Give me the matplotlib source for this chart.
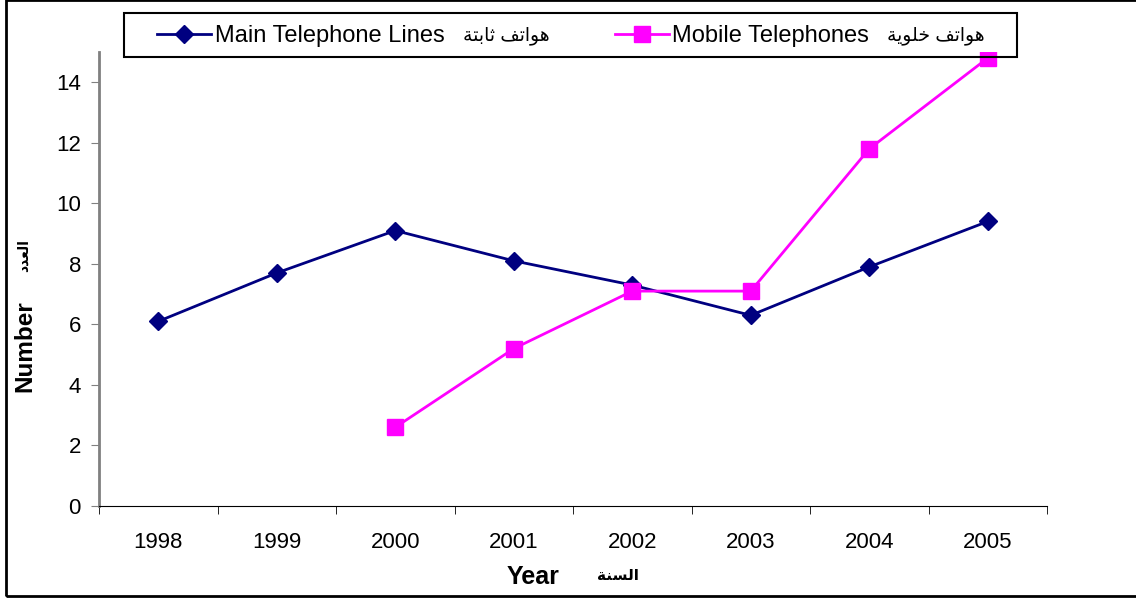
import numpy as np
import matplotlib.pyplot as plt
from matplotlib.patches import Rectangle

years = ['1998', '1999', '2000', '2001', '2002', '2003', '2004', '2005']
main_lines = [6.1, 7.7, 9.1, 8.1, 7.3, 6.3, 7.9, 9.4]
mobile = [np.nan, np.nan, 2.6, 5.2, 7.1, 7.1, 11.8, 14.8]

# arabic written in presentation forms, visual (left to right) order
ar_main = '\ufe94\ufe98\ufe91\ufe8e\ufe9b \ufed2\ufe97\ufe8d\ufeee\ufeeb'
ar_mobile = '\ufe94\ufef3\ufeee\ufee0\ufea7 \ufed2\ufe97\ufe8d\ufeee\ufeeb'
ar_number = '\ufea9\ufeaa\ufecc\ufedf\ufe8d'
ar_year = '\ufe94\ufee8\ufeb4\ufedf\ufe8d'

plt.rcParams['font.family'] = ['Liberation Sans', 'DejaVu Sans']

W, H = 1136, 598
fig = plt.figure(figsize=(W / 100, H / 100), dpi=100)
ax = fig.add_axes([99 / W, 1 - 506 / H, 948 / W, 454 / H])

x = np.arange(len(years))
ax.plot(x, main_lines, color='#000080', lw=2, marker='D', ms=9,
        label='Main Telephone Lines')
ax.plot(x, mobile, color='#FF00FF', lw=2, marker='s', ms=11,
        label='Mobile Telephones')

ax.set_xlim(-0.5, len(years) - 0.5)
ax.set_ylim(0, 15)
ax.set_yticks(np.arange(0, 15, 2))
ax.set_xticks(x)
ax.set_xticklabels(years)
ax.set_xticks(np.arange(-0.5, len(years), 1), minor=True)
ax.tick_params(axis='x', which='major', length=0, pad=19, labelsize=16)
ax.tick_params(axis='x', which='minor', length=6, color='black')
ax.tick_params(axis='y', length=6, color='#808080', labelsize=16, pad=7)

for s in ['top', 'right']:
    ax.spines[s].set_visible(False)
ax.spines['left'].set_color('#808080')
ax.spines['left'].set_linewidth(2)
ax.spines['bottom'].set_color('black')

# axis titles, english and arabic side by side
fig.text(533 / W, 1 - 577 / H, 'Year', fontsize=18, fontweight='bold',
         ha='center', va='center')
fig.text(618 / W, 1 - 576 / H, ar_year, fontsize=11, fontweight='bold',
         ha='center', va='center')
fig.text(25 / W, 1 - 346 / H, 'Number', fontsize=17.5, fontweight='bold',
         rotation=90, ha='center', va='center')
fig.text(24 / W, 1 - 255 / H, ar_number, fontsize=10, fontweight='bold',
         rotation=90, ha='center', va='center')

# legend
fig.patches.append(Rectangle((124 / W, 1 - 57 / H), 893 / W, 44 / H,
                             transform=fig.transFigure, fill=False,
                             edgecolor='black', lw=1.5))
leg = fig.legend(loc='center left', bbox_to_anchor=(157 / W, 1 - 36 / H), ncol=2,
                 frameon=False, fontsize=17, handlelength=2.3,
                 handletextpad=0.15, columnspacing=7.2, borderpad=0,
                 borderaxespad=0)
fig.text(550 / W, 1 - 36 / H, ar_main, fontsize=13.5, ha='right', va='center')
fig.text(985 / W, 1 - 36 / H, ar_mobile, fontsize=13.5, ha='right', va='center')

# outer chart border
fig.patches.append(Rectangle((6 / W, 2 / H), 1.1, 596 / H, transform=fig.transFigure,
                             fill=False, edgecolor='black', lw=2))

fig.savefig('out.png', dpi=100)
